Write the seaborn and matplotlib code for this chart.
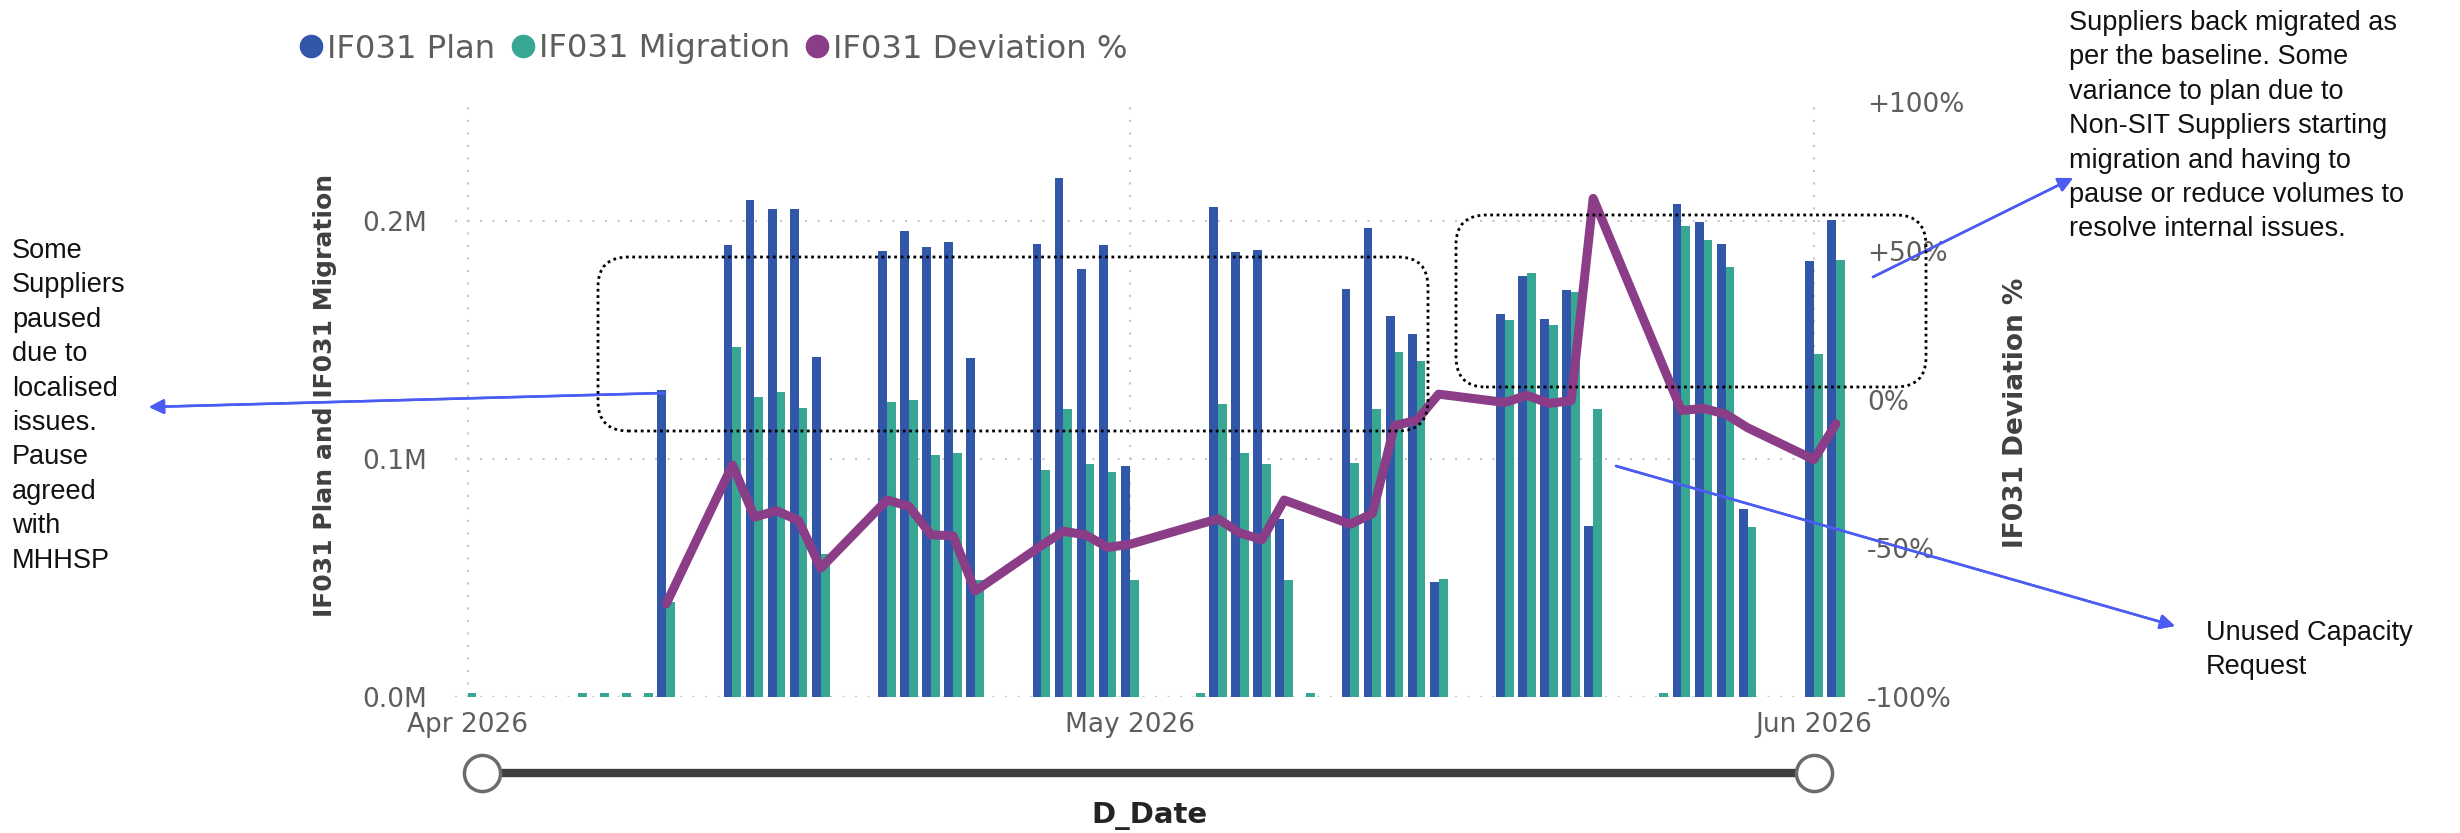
import numpy as np
import pandas as pd
import seaborn as sns
import matplotlib.pyplot as plt
from matplotlib.lines import Line2D
from matplotlib.patches import FancyBboxPatch

# --- data --------------------------------------------------------------
dates = ["2026-04-01", "2026-04-06", "2026-04-07", "2026-04-08", "2026-04-09",
         "2026-04-10", "2026-04-13", "2026-04-14", "2026-04-15", "2026-04-16",
         "2026-04-17", "2026-04-20", "2026-04-21", "2026-04-22", "2026-04-23",
         "2026-04-24", "2026-04-27", "2026-04-28", "2026-04-29", "2026-04-30",
         "2026-05-01", "2026-05-04", "2026-05-05", "2026-05-06", "2026-05-07",
         "2026-05-08", "2026-05-09", "2026-05-11", "2026-05-12", "2026-05-13",
         "2026-05-14", "2026-05-15", "2026-05-18", "2026-05-19", "2026-05-20",
         "2026-05-21", "2026-05-22", "2026-05-25", "2026-05-26", "2026-05-27",
         "2026-05-28", "2026-05-29", "2026-06-01", "2026-06-02"]
plan = [0, 0, 0, 0, 0,
        129000, 190000, 209000, 205000, 205000,
        143000, 187500, 196000, 189000, 191000,
        142500, 190500, 218000, 180000, 190000,
        97000, 0, 206000, 187000, 188000,
        75000, 0, 171500, 197000, 160000,
        152500, 48500, 161000, 177000, 159000,
        171000, 72000, 0, 207000, 199500,
        190500, 79000, 183000, 200500]
migration = [1500, 1500, 1500, 1500, 1500,
             40000, 147000, 126000, 128000, 121500,
             60000, 124000, 125000, 101500, 102500,
             49000, 95500, 121000, 98000, 94500,
             49000, 1500, 123000, 102500, 98000,
             49000, 1500, 98500, 121000, 145000,
             141000, 49500, 158500, 178000, 156500,
             170000, 121000, 1500, 198000, 192000,
             180500, 71500, 144000, 183500]

dev_dates = ["2026-04-10", "2026-04-13", "2026-04-14", "2026-04-15", "2026-04-16",
             "2026-04-17", "2026-04-20", "2026-04-21", "2026-04-22", "2026-04-23",
             "2026-04-24", "2026-04-27", "2026-04-28", "2026-04-29", "2026-04-30",
             "2026-05-01", "2026-05-05", "2026-05-06", "2026-05-07", "2026-05-08",
             "2026-05-11", "2026-05-12", "2026-05-13", "2026-05-14", "2026-05-15",
             "2026-05-18", "2026-05-19", "2026-05-20", "2026-05-21", "2026-05-22",
             "2026-05-26", "2026-05-27", "2026-05-28", "2026-05-29", "2026-06-01",
             "2026-06-02"]
deviation = [-68.7, -22.0, -39.5, -37.4, -40.7,
             -56.7, -33.8, -35.9, -45.5, -45.8,
             -64.4, -49.1, -44.3, -45.5, -49.7,
             -48.7, -40.1, -44.9, -47.1, -33.8,
             -41.9, -38.3, -8.8, -7.0, 1.8,
             -1.0, 1.4, -1.3, -0.4, 67.6,
             -3.7, -3.0, -4.9, -9.5, -20.2,
             -8.2]

month_ticks = ["2026-04-01", "2026-05-01", "2026-06-01"]
month_labels = ["Apr 2026", "May 2026", "Jun 2026"]
left_ticks = [0, 100000, 200000]
left_labels = ["0.0M", "0.1M", "0.2M"]
right_ticks = [-100, -50, 0, 50, 100]
right_labels = ["-100%", "-50%", "0%", "+50%", "+100%"]

BLUE = "#3257A8"
GREEN = "#37A794"
PURPLE = "#8B3D88"
GREY = "#605E5C"
ARROW = "#4A5CF2"

start = pd.Timestamp("2026-04-01")
day_num = (pd.to_datetime(dates) - start).days.to_numpy()
dev_day_num = (pd.to_datetime(dev_dates) - start).days.to_numpy()
tick_num = (pd.to_datetime(month_ticks) - start).days.to_numpy()

sns.set_style("white")
plt.rcParams["font.family"] = ["DejaVu Sans"]

W, H = 2460, 833
fig = plt.figure(figsize=(W / 100, H / 100), dpi=100)


def fx(x):
    return x / W


def fy(y):
    return 1 - y / H


ax = fig.add_axes([fx(455), fy(697), fx(1845) - fx(455), fy(102) - fy(697)])

bars = pd.DataFrame({
    "day": np.concatenate([day_num, day_num]),
    "value": plan + migration,
    "series": ["IF031 Plan"] * len(dates) + ["IF031 Migration"] * len(dates),
})
sns.barplot(data=bars, x="day", y="value", hue="series", native_scale=True,
            hue_order=["IF031 Plan", "IF031 Migration"],
            palette={"IF031 Plan": BLUE, "IF031 Migration": GREEN},
            width=0.8, errorbar=None, legend=False, saturation=1,
            linewidth=0, ax=ax, zorder=2)

ax.set_xlim(-0.57, 62.41)
ax.set_ylim(0, 250000)
ax.set_xticks(tick_num)
ax.set_xticklabels(month_labels)
ax.set_yticks(left_ticks)
ax.set_yticklabels(left_labels)
ax.tick_params(axis="x", length=0, pad=11, labelsize=19, labelcolor=GREY)
ax.tick_params(axis="y", length=0, pad=20, labelsize=19, labelcolor=GREY)
ax.grid(True, color="#C8C6C4", linestyle=(0, (1, 5)), linewidth=1.5, zorder=0)
ax.set_axisbelow(True)
ax.set_xlabel("")
ax.set_ylabel("IF031 Plan and IF031 Migration", fontsize=18, fontweight="bold",
              color="#404040", va="center")
ax.yaxis.set_label_coords(-0.0935, 0.506)
for s in ax.spines.values():
    s.set_visible(False)

ax2 = ax.twinx()
sns.lineplot(x=dev_day_num, y=deviation, ax=ax2, color=PURPLE, linewidth=6.5,
             solid_joinstyle="round", solid_capstyle="round")
ax2.set_ylim(-100, 100)
ax2.set_yticks(right_ticks)
ax2.set_yticklabels(right_labels)
ax2.tick_params(axis="y", length=0, pad=16, labelsize=19, labelcolor=GREY)
ax2.set_ylabel("IF031 Deviation %", fontsize=19, fontweight="bold",
               color="#404040", rotation=90, va="center")
ax2.yaxis.set_label_coords(1.123, 0.477)
ax2.grid(False)
for s in ax2.spines.values():
    s.set_visible(False)

# legend
handles = [Line2D([], [], marker="o", linestyle="", markersize=16, color=c)
           for c in (BLUE, GREEN, PURPLE)]
fig.legend(handles, ["IF031 Plan", "IF031 Migration", "IF031 Deviation %"],
           loc="center left", bbox_to_anchor=(fx(298), fy(49)), ncol=3,
           frameon=False, fontsize=23.2, labelcolor=GREY, handlelength=0.8,
           handletextpad=0.1, columnspacing=0.45, borderpad=0, borderaxespad=0)

# date slider
fig.add_artist(Line2D([fx(482), fx(1814)], [fy(773), fy(773)], color="#3D3D3D",
                      linewidth=6, transform=fig.transFigure, zorder=3))
fig.add_artist(Line2D([fx(482), fx(1814)], [fy(773), fy(773)], linestyle="",
                      marker="o", markersize=26, markerfacecolor="white",
                      markeredgecolor="#6B6B6B", markeredgewidth=2.5,
                      transform=fig.transFigure, zorder=4))
fig.text(fx(1149), fy(816), "D_Date", ha="center", va="center", fontsize=21,
         fontweight="bold", color="#252423")

# dotted callout boxes
for x0, y0, x1, y1 in [(598, 257, 1428, 431), (1456, 215, 1926, 387)]:
    fig.add_artist(FancyBboxPatch((x0 / 100, (H - y1) / 100), (x1 - x0) / 100,
                                  (y1 - y0) / 100,
                                  boxstyle="round,pad=0,rounding_size=0.3",
                                  transform=fig.dpi_scale_trans, fill=False,
                                  edgecolor="black", linewidth=2,
                                  linestyle=(0, (1, 1.3)), zorder=5))

# notes and arrows
note_font = dict(family="Liberation Sans", fontsize=19.5, color="#111111",
                 linespacing=1.42, ha="left", va="top")
fig.text(fx(12), fy(238), "Some\nSuppliers\npaused\ndue to\nlocalised\nissues.\n"
         "Pause\nagreed\nwith\nMHHSP", **note_font)
fig.text(fx(2069), fy(10), "Suppliers back migrated as\nper the baseline. Some\n"
         "variance to plan due to\nNon-SIT Suppliers starting\nmigration and having to\n"
         "pause or reduce volumes to\nresolve internal issues.", **note_font)
fig.text(fx(2206), fy(620), "Unused Capacity\nRequest", **note_font)

for tail, head in [((665, 393), (149, 407)), ((1873, 277), (2073, 178)),
                   ((1616, 466), (2175, 626))]:
    fig.add_artist(plt.annotate("", xy=(fx(head[0]), fy(head[1])),
                                xytext=(fx(tail[0]), fy(tail[1])),
                                xycoords="figure fraction",
                                textcoords="figure fraction",
                                arrowprops=dict(arrowstyle="-|>", color=ARROW,
                                                lw=1.8, mutation_scale=22,
                                                shrinkA=0, shrinkB=0)))

fig.savefig("out.png", dpi=100)
